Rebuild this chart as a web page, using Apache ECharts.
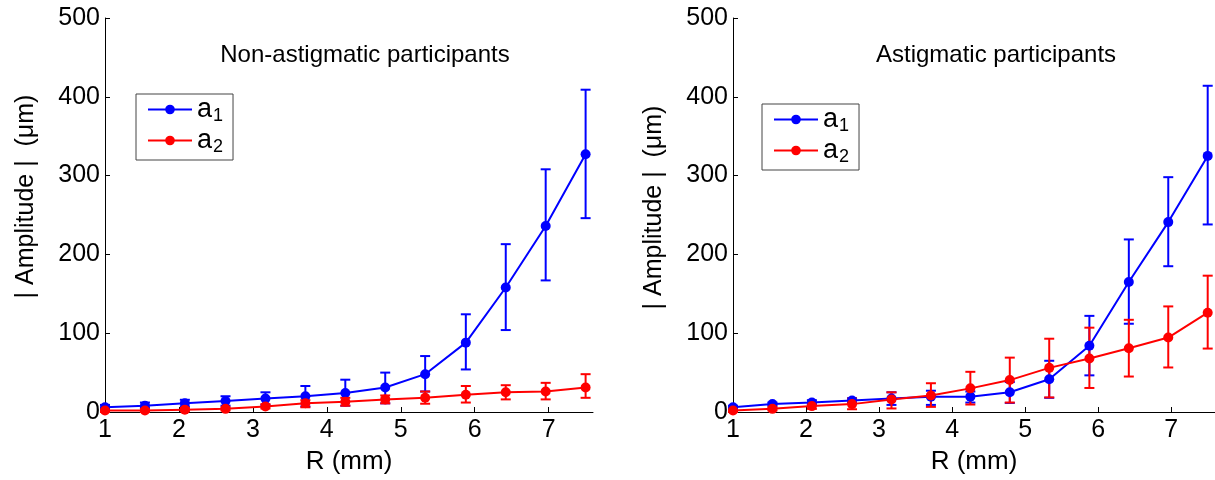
<!DOCTYPE html>
<html>
<head>
<meta charset="utf-8">
<script src="https://cdn.jsdelivr.net/npm/echarts@6/dist/echarts.min.js"></script>
<style>html,body{margin:0;padding:0;background:#fff}#c{width:1215px;height:480px}</style>
</head>
<body>
<div id="c"></div>
<script>
// Radius positions (mm)
var R = [1, 1.54, 2.08, 2.63, 3.17, 3.71, 4.25, 4.79, 5.33, 5.88, 6.42, 6.96, 7.5];
var xTicks = [1, 2, 3, 4, 5, 6, 7];
var yTicks = [0, 100, 200, 300, 400, 500];

// Non-astigmatic participants
var nonA1 = [6, 8, 11, 14, 17, 20, 24, 31, 48, 88, 158, 236, 327];
var nonA1Hi = [9, 12, 15.5, 20, 25, 33, 41, 50, 71, 124, 213, 308, 409];
var nonA1Lo = [3, 5, 7, 8, 9, 7, 8, 11, 26, 54, 104, 167, 246];
var nonA2 = [2, 2, 3, 4, 7, 11, 13, 16, 18, 22, 25, 26, 31];
var nonA2Hi = [4, 4, 5, 6, 10, 15, 18, 21, 26, 33, 34, 37, 48];
var nonA2Lo = [0, 0, 1, 2, 4.5, 6, 8, 11, 10.5, 12, 16, 16, 18];

// Astigmatic participants
var astA1 = [6, 10, 12, 14.5, 17, 19.5, 19.5, 25, 41.5, 84, 165, 241, 325];
var astA1Hi = [8, 12, 15, 17.5, 25, 27, 26, 38, 65, 122, 219, 298, 414];
var astA1Lo = [4, 8, 9, 11.5, 9, 9, 12, 11.5, 18, 46.5, 112, 185, 238];
var astA2 = [2, 4, 7.5, 10, 16, 21, 30, 40.5, 56, 68, 81, 94.5, 126];
var astA2Hi = [4, 6, 10.5, 17, 25, 36.5, 51, 69, 93, 107, 117, 134, 173];
var astA2Lo = [0, 2, 4, 3.5, 4.5, 6.5, 9.5, 12, 18.5, 30.5, 45, 56.5, 80.5];

var titles = ['Non-astigmatic participants', 'Astigmatic participants'];

var BLUE = '#0000ff', RED = '#ff0000';
var FONT = '"Liberation Sans", Arial, sans-serif';

function pts(v) { return R.map(function (x, i) { return [x, v[i]]; }); }
function errs(lo, hi) { return R.map(function (x, i) { return [x, lo[i], hi[i]]; }); }

function errSeries(idx, lo, hi, color) {
  return {
    type: 'custom', xAxisIndex: idx, yAxisIndex: idx, silent: true,
    data: errs(lo, hi), encode: { x: 0, y: [1, 2] }, z: 2,
    renderItem: function (params, api) {
      var a = api.coord([api.value(0), api.value(1)]);
      var b = api.coord([api.value(0), api.value(2)]);
      var w = 5;
      var st = { stroke: color, lineWidth: 2 };
      return { type: 'group', children: [
        { type: 'line', shape: { x1: a[0], y1: a[1], x2: b[0], y2: b[1] }, style: st },
        { type: 'line', shape: { x1: a[0] - w, y1: a[1], x2: a[0] + w, y2: a[1] }, style: st },
        { type: 'line', shape: { x1: b[0] - w, y1: b[1], x2: b[0] + w, y2: b[1] }, style: st }
      ] };
    }
  };
}
function lineSeries(idx, name, v, color) {
  return {
    type: 'line', name: name, xAxisIndex: idx, yAxisIndex: idx, data: pts(v),
    symbol: 'circle', symbolSize: 10, z: 3,
    lineStyle: { color: color, width: 2 }, itemStyle: { color: color },
    emphasis: { disabled: true }, animation: false
  };
}
function xAxis(idx) {
  return {
    type: 'value', gridIndex: idx, min: 1, max: 7.6,
    name: 'R (mm)', nameLocation: 'middle', nameGap: 37,
    nameTextStyle: { fontFamily: FONT, fontSize: 26, color: '#000' },
    axisLine: { show: true, lineStyle: { color: '#000', width: 1 } },
    axisTick: { show: true, inside: true, length: 5, customValues: xTicks, lineStyle: { color: '#000' } },
    axisLabel: { customValues: xTicks, fontFamily: FONT, fontSize: 25, color: '#000', margin: 6 },
    splitLine: { show: false }
  };
}
function yAxis(idx, shift) {
  return {
    type: 'value', gridIndex: idx, min: 0, max: 500, interval: 100,
    name: '| Amplitude |  (μm)', nameLocation: 'middle', nameGap: 66,
    nameTextStyle: { fontFamily: FONT, fontSize: 25, color: '#000', padding: [0, 0, 0, shift] },
    axisLine: { show: true, lineStyle: { color: '#000', width: 1 } },
    axisTick: { show: true, inside: true, length: 5, lineStyle: { color: '#000' } },
    axisLabel: { fontFamily: FONT, fontSize: 25, color: '#000', margin: 5 },
    splitLine: { show: false }
  };
}
function legend(left, top) {
  return {
    left: left, top: top, orient: 'vertical', data: ['a1', 'a2'],
    backgroundColor: '#fff', borderColor: '#444', borderWidth: 1, borderRadius: 0,
    padding: [2, 10, 4, 11], itemGap: 2, itemWidth: 44, itemHeight: 12,
    selectedMode: false,
    formatter: function (n) { return '{a|a}{s|' + n.slice(1) + '}'; },
    textStyle: { fontFamily: FONT, fontSize: 27, color: '#000',
      rich: {
        a: { fontFamily: FONT, fontSize: 27, color: '#000' },
        s: { fontFamily: FONT, fontSize: 18, color: '#000', padding: [13, 0, 0, 1] }
      } }
  };
}

var chart = echarts.init(document.getElementById('c'), null, { renderer: 'canvas' });
chart.setOption({
  animation: false,
  backgroundColor: '#fff',
  title: [
    { text: titles[0], left: 360, top: 38, textAlign: 'center',
      textStyle: { fontFamily: FONT, fontSize: 24, fontWeight: 'normal', color: '#000' } },
    { text: titles[1], left: 991, top: 38, textAlign: 'center',
      textStyle: { fontFamily: FONT, fontSize: 24, fontWeight: 'normal', color: '#000' } }
  ],
  grid: [
    { left: 105, top: 18, width: 488, bottom: 65, containLabel: false },
    { left: 733, top: 18, width: 486, bottom: 65, containLabel: false }
  ],
  xAxis: [xAxis(0), xAxis(1)],
  yAxis: [yAxis(0, 37), yAxis(1, 15)],
  legend: [legend(136, 94), legend(762, 104)],
  series: [
    errSeries(0, nonA1Lo, nonA1Hi, BLUE),
    lineSeries(0, 'a1', nonA1, BLUE),
    errSeries(0, nonA2Lo, nonA2Hi, RED),
    lineSeries(0, 'a2', nonA2, RED),
    errSeries(1, astA1Lo, astA1Hi, BLUE),
    lineSeries(1, 'a1', astA1, BLUE),
    errSeries(1, astA2Lo, astA2Hi, RED),
    lineSeries(1, 'a2', astA2, RED)
  ]
});
</script>
</body>
</html>
